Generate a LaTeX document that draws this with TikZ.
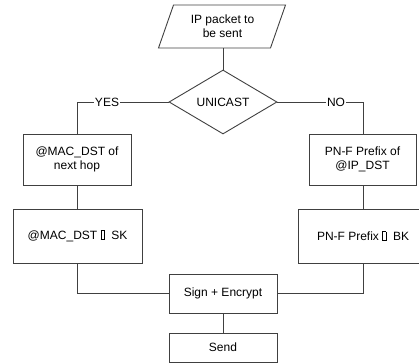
\documentclass[tikz,border=0pt]{standalone}
\usepackage{fontspec}
\setmainfont{Liberation Sans}
\usetikzlibrary{shapes.geometric}
% small empty glyph box printed between the key names
\newcommand\tofu{{\setlength{\fboxsep}{0pt}\setlength{\fboxrule}{0.5pt}\fbox{\rule{0pt}{8.5pt}\hspace{3pt}}}}
\begin{document}
\begin{tikzpicture}[x=1pt,y=-1pt,
  line/.style={draw=black!75, line width=0.9pt},
  txt/.style={font=\fontsize{12}{14}\selectfont, align=center, inner sep=0pt},
  box/.style={txt, line, rectangle},
  decision/.style={txt, line, diamond, aspect=1.69},
  lbl/.style={txt, fill=white, inner xsep=1pt}
 ]
\useasboundingbox (0,0) rectangle (419,363);

% input: parallelogram drawn around a plain node
\node[txt, minimum width=112pt, minimum height=43pt] (io) at (222.5,26.5) {IP packet to\\be sent};
\draw[line] (io.center) ++(-64,21.5) -- ++(15,-43) -- ++(112,0) -- ++(-15,43) -- cycle;

\node[decision, minimum width=108pt, minimum height=64pt] (uni) at (223,102) {UNICAST};

\node[box, minimum width=108pt, minimum height=51pt] (mac) at (77,159.5) {@MAC\_DST of\\next hop};
\node[box, minimum width=107pt, minimum height=51pt] (pnf) at (362.5,159.5) {PN-F Prefix of\\@IP\_DST};

\node[box, minimum width=129pt, minimum height=54pt] (macsk) at (77.5,236) {@MAC\_DST \tofu\ \ SK};
\node[box, minimum width=129pt, minimum height=54pt] (pnfbk) at (363,236) {PN-F Prefix \tofu\ \ BK};

\node[box, minimum width=108pt, minimum height=39pt] (sign) at (223,293.5) {Sign + Encrypt};
\node[box, minimum width=108pt, minimum height=29pt] (send) at (223,347.5) {Send};

% connectors
\draw[line] (uni.north |- io.south) -- (uni.north);
\draw[line] (uni.west) -- (77,102) coordinate (yc) -- (mac.north);
\draw[line] (uni.east) -- (363,102) coordinate (nc) -- (pnf.north -| nc);
\node[lbl] at (107,102) {YES};
\node[lbl] at (336,102) {NO};
\draw[line] (mac.south) -- (macsk.north -| mac.south);
\draw[line] (pnf.south -| nc) -- (pnfbk.north -| nc);
\draw[line] (macsk.south -| mac.south) |- (sign.west);
\draw[line] (pnfbk.south -| nc) |- (sign.east);
\draw[line] (sign.south) -- (send.north);
\end{tikzpicture}
\end{document}
